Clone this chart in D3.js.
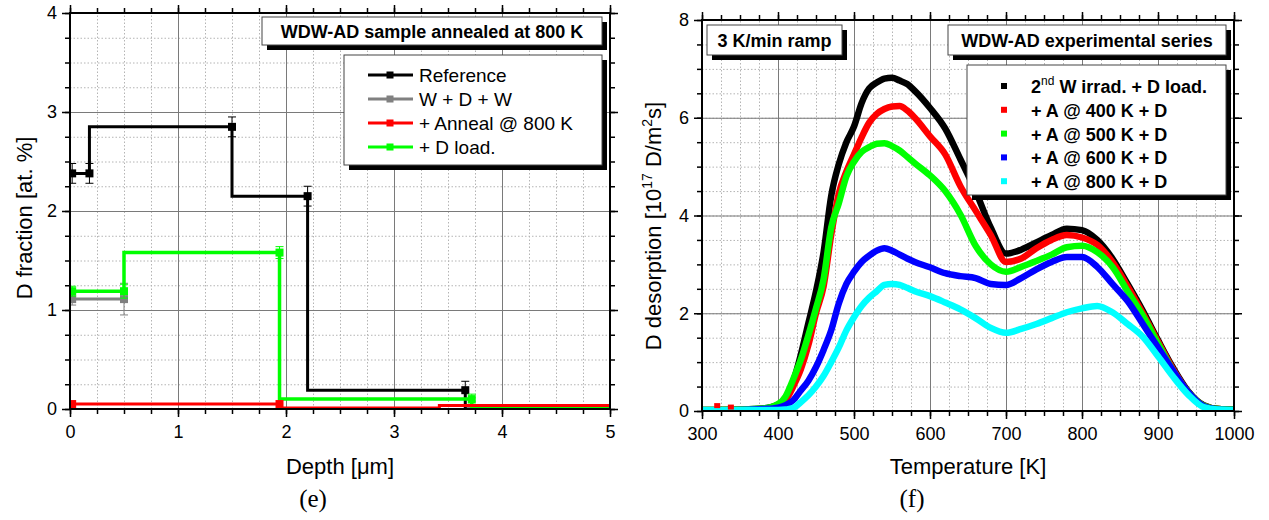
<!DOCTYPE html>
<html>
<head>
<meta charset="UTF-8">
<title>Depth profile and TDS</title>
<style>
    body { margin: 0; background: #fff; }
    svg text { font-family: "Liberation Sans", Arial, sans-serif; fill: #000; }
    .tick text { font-size: 18px; }
    .grid-minor line { stroke: #b4b4b4; stroke-dasharray: 1.5, 2; }
    .grid-major line { stroke: #7a7a7a; }
    .grid-minor path, .grid-major path, .ax path { display: none; }
    .ax line { stroke: #000; stroke-width: 1.5; }
    .lbl { font-size: 22px; }
    .box { font-size: 18px; font-weight: bold; }
    .leg { font-size: 19px; }
    .panel { font-family: "Liberation Serif", "Times New Roman", serif; font-size: 25px; }
</style>
</head>
<body>
<svg id="svg" width="1269" height="520"></svg>
<script src="https://d3js.org/d3.v7.min.js"></script>
<script>
    var svg = d3.select("#svg");

    // ---- panel (e): depth profiles ----
    var depthTicks = [0, 1, 2, 3, 4, 5];
    var fracTicks = [0, 1, 2, 3, 4];

    var refX = [0.02, 0.18, 1.5, 2.2, 3.66, 5];
    var refY = [2.38, 2.38, 2.85, 2.15, 0.19, 0];
    var refErr = [0.1, 0.1, 0.1, 0.1, 0.09, null];

    var wdwX = [0.02, 0.5];
    var wdwY = [1.11, 1.11];
    var wdwErr = [0.06, 0.16];

    var annX = [0.02, 1.94, 3.42, 3.72, 5];
    var annY = [0.05, 0.05, 0.01, 0.035, 0.035];
    var annErr = [0, 0, null, null, null];

    var dlX = [0.02, 0.5, 1.94, 3.72, 5];
    var dlY = [1.19, 1.19, 1.58, 0.1, 0.015];
    var dlErr = [0.05, 0.07, 0.06, 0.05, null];

    var depthNames = ["Reference", "W + D + W", "+ Anneal @ 800 K", "+ D load."];
    var depthColors = ["#000000", "#808080", "#ff0000", "#00ff00"];

    // ---- panel (f): TDS spectra ----
    var tempTicks = [300, 400, 500, 600, 700, 800, 900, 1000];
    var desTicks = [0, 2, 4, 6, 8];

    var tempK = [300, 350, 380, 400, 410, 420, 430, 440, 450, 460, 470, 480, 490, 500, 510, 520, 530, 540, 550, 560,
        570, 580, 600, 620, 640, 660, 680, 700, 720, 740, 760, 780, 800, 820, 840, 860, 880, 900, 920, 940, 960, 980, 1000];
    var irr2nd = [0.02, 0.03, 0.05, 0.13, 0.25, 0.6, 1.15, 1.8, 2.45, 3.25, 4.4, 5.05, 5.5, 5.82, 6.3, 6.6, 6.72, 6.8, 6.82, 6.76,
        6.69, 6.55, 6.2, 5.78, 5.15, 4.5, 3.75, 3.22, 3.3, 3.45, 3.6, 3.73, 3.7, 3.5, 3.12, 2.6, 2.05, 1.45, 0.88, 0.4, 0.12, 0.04, 0.03];
    var ann400 = [0.02, 0.03, 0.04, 0.1, 0.22, 0.5, 0.85, 1.35, 2.0, 2.55, 3.6, 4.45, 4.9, 5.25, 5.6, 5.9, 6.08, 6.18, 6.23, 6.24,
        6.15, 6.0, 5.62, 5.25, 4.6, 4.1, 3.6, 3.05, 3.12, 3.33, 3.5, 3.6, 3.55, 3.4, 3.05, 2.55, 2.0, 1.42, 0.85, 0.38, 0.11, 0.04, 0.03];
    var ann500 = [0.02, 0.03, 0.05, 0.14, 0.3, 0.65, 1.05, 1.55, 2.1, 2.7, 3.75, 4.25, 4.8, 5.1, 5.3, 5.4, 5.47, 5.48, 5.42, 5.33,
        5.2, 5.07, 4.82, 4.5, 4.02, 3.38, 3.0, 2.85, 2.95, 3.07, 3.2, 3.35, 3.38, 3.25, 2.95, 2.45, 1.95, 1.38, 0.82, 0.38, 0.11, 0.04, 0.03];
    var ann600 = [0.01, 0.02, 0.04, 0.07, 0.12, 0.22, 0.42, 0.62, 0.9, 1.25, 1.65, 2.2, 2.6, 2.85, 3.05, 3.18, 3.28, 3.33, 3.28, 3.2,
        3.12, 3.05, 2.94, 2.82, 2.76, 2.72, 2.6, 2.58, 2.72, 2.9, 3.05, 3.15, 3.15, 2.95, 2.6, 2.25, 1.78, 1.3, 0.82, 0.38, 0.1, 0.03, 0.02];
    var ann800 = [0.02, 0.02, 0.02, 0.02, 0.03, 0.06, 0.18, 0.32, 0.5, 0.72, 1.0, 1.3, 1.65, 1.92, 2.15, 2.32, 2.45, 2.58, 2.6, 2.58,
        2.52, 2.45, 2.35, 2.22, 2.08, 1.9, 1.7, 1.6, 1.68, 1.78, 1.9, 2.02, 2.1, 2.15, 2.02, 1.78, 1.52, 1.12, 0.7, 0.33, 0.08, 0.03, 0.02];
    var strayT = [320, 338];
    var strayV = [0.1, 0.07];

    var tdsColors = ["#000000", "#ff0000", "#00ff00", "#0000ff", "#00ffff"];

    function frame(o) {
        var g = svg.append("g");
        var x = d3.scaleLinear().domain(o.xd).range([o.l, o.r]);
        var y = d3.scaleLinear().domain(o.yd).range([o.b, o.t]);
        var xMinor = d3.range(o.xd[0], o.xd[1] + 1e-9, o.xStep);
        var yMinor = d3.range(o.yd[0], o.yd[1] + 1e-9, o.yStep);
        var w = o.r - o.l, h = o.b - o.t;

        g.append("g").attr("class", "grid-minor").attr("transform", "translate(0," + o.b + ")")
            .call(d3.axisBottom(x).tickValues(xMinor).tickSize(-h).tickFormat(""));
        g.append("g").attr("class", "grid-minor").attr("transform", "translate(" + o.l + ",0)")
            .call(d3.axisLeft(y).tickValues(yMinor).tickSize(-w).tickFormat(""));
        g.append("g").attr("class", "grid-major").attr("transform", "translate(0," + o.b + ")")
            .call(d3.axisBottom(x).tickValues(o.xt).tickSize(-h).tickFormat(""));
        g.append("g").attr("class", "grid-major").attr("transform", "translate(" + o.l + ",0)")
            .call(d3.axisLeft(y).tickValues(o.yt).tickSize(-w).tickFormat(""));

        // minor ticks on all sides
        g.append("g").attr("class", "ax").attr("transform", "translate(0," + o.b + ")").call(d3.axisBottom(x).tickValues(xMinor).tickSize(5).tickFormat(""));
        g.append("g").attr("class", "ax").attr("transform", "translate(0," + o.t + ")").call(d3.axisTop(x).tickValues(xMinor).tickSize(5).tickFormat(""));
        g.append("g").attr("class", "ax").attr("transform", "translate(" + o.l + ",0)").call(d3.axisLeft(y).tickValues(yMinor).tickSize(5).tickFormat(""));
        g.append("g").attr("class", "ax").attr("transform", "translate(" + o.r + ",0)").call(d3.axisRight(y).tickValues(yMinor).tickSize(5).tickFormat(""));
        // major ticks
        g.append("g").attr("class", "ax").attr("transform", "translate(0," + o.b + ")").call(d3.axisBottom(x).tickValues(o.xt).tickSize(8).tickPadding(8).tickFormat(d3.format("d")));
        g.append("g").attr("class", "ax").attr("transform", "translate(0," + o.t + ")").call(d3.axisTop(x).tickValues(o.xt).tickSize(8).tickFormat(""));
        g.append("g").attr("class", "ax").attr("transform", "translate(" + o.l + ",0)").call(d3.axisLeft(y).tickValues(o.yt).tickSize(8).tickPadding(5).tickFormat(d3.format("d")));
        g.append("g").attr("class", "ax").attr("transform", "translate(" + o.r + ",0)").call(d3.axisRight(y).tickValues(o.yt).tickSize(8).tickFormat(""));
        g.selectAll(".tick text").style("font-family", "Liberation Sans, Arial, sans-serif");

        svg.append("clipPath").attr("id", o.id).append("rect").attr("x", o.l).attr("y", o.t).attr("width", w).attr("height", h);
        var data = svg.append("g").attr("clip-path", "url(#" + o.id + ")");
        // frame drawn after data
        var top = svg.append("g");
        return { x: x, y: y, data: data, top: top, o: o };
    }

    function closeFrame(p) {
        var o = p.o;
        p.top.append("rect").attr("x", o.l).attr("y", o.t).attr("width", o.r - o.l).attr("height", o.b - o.t)
            .attr("fill", "none").attr("stroke", "#000").attr("stroke-width", 2);
    }

    function shadowBox(x0, y0, w, h) {
        svg.append("rect").attr("x", x0 + 5).attr("y", y0 + 5).attr("width", w).attr("height", h).attr("fill", "#000");
        svg.append("rect").attr("x", x0).attr("y", y0).attr("width", w).attr("height", h)
            .attr("fill", "#fff").attr("stroke", "#444").attr("stroke-width", 1);
    }

    // ===== panel (e) =====
    var pe = frame({ id: "clipE", l: 70, r: 610, t: 13, b: 409, xd: [0, 5], yd: [0, 4], xt: depthTicks, yt: fracTicks, xStep: 0.25, yStep: 0.25 });
    var stepLine = d3.line().curve(d3.curveStepBefore).x(function (d) { return pe.x(d[0]); }).y(function (d) { return pe.y(d[1]); });

    var depthSeries = [[refX, refY, refErr], [wdwX, wdwY, wdwErr], [annX, annY, annErr], [dlX, dlY, dlErr]];
    var drawOrder = [0, 1, 3, 2];
    drawOrder.forEach(function (k) {
        var s = depthSeries[k], col = depthColors[k];
        var pts = s[0].map(function (v, i) { return [v, s[1][i], s[2][i]]; });
        pe.data.append("path").attr("d", stepLine(pts)).attr("fill", "none").attr("stroke", col)
            .attr("stroke-width", k == 3 ? 3.5 : 3);
        pts.forEach(function (d) {
            if (d[2] === null) return;
            var cx = pe.x(d[0]);
            if (d[2] > 0) {
                var y1 = pe.y(d[1] + d[2]), y2 = pe.y(d[1] - d[2]);
                pe.data.append("line").attr("x1", cx).attr("x2", cx).attr("y1", y1).attr("y2", y2).attr("stroke", col).attr("stroke-width", 1);
                pe.data.append("line").attr("x1", cx - 4).attr("x2", cx + 4).attr("y1", y1).attr("y2", y1).attr("stroke", col).attr("stroke-width", 1);
                pe.data.append("line").attr("x1", cx - 4).attr("x2", cx + 4).attr("y1", y2).attr("y2", y2).attr("stroke", col).attr("stroke-width", 1);
            }
            pe.data.append("rect").attr("x", cx - 4).attr("y", pe.y(d[1]) - 4).attr("width", 8).attr("height", 8).attr("fill", col);
        });
    });
    closeFrame(pe);

    shadowBox(262, 17, 340, 28);
    svg.append("text").attr("class", "box").attr("x", 432).attr("y", 37.5).attr("text-anchor", "middle").text("WDW-AD sample annealed at 800 K");
    shadowBox(344, 55, 258, 110);
    depthNames.forEach(function (n, i) {
        var yy = 75 + i * 24;
        svg.append("line").attr("x1", 368).attr("x2", 413).attr("y1", yy).attr("y2", yy).attr("stroke", depthColors[i]).attr("stroke-width", 3);
        svg.append("rect").attr("x", 386.5).attr("y", yy - 3.5).attr("width", 7).attr("height", 7).attr("fill", depthColors[i]);
        svg.append("text").attr("class", "leg").attr("x", 419).attr("y", yy + 7).text(n);
    });

    svg.append("text").attr("class", "lbl").attr("transform", "translate(32,218) rotate(-90)").attr("text-anchor", "middle").text("D fraction [at. %]");
    svg.append("text").attr("class", "lbl").attr("x", 340).attr("y", 474).attr("text-anchor", "middle").text("Depth [\u03bcm]");
    svg.append("text").attr("class", "panel").attr("x", 313).attr("y", 507).attr("text-anchor", "middle").text("(e)");

    // ===== panel (f) =====
    var pf = frame({ id: "clipF", l: 702, r: 1234, t: 20, b: 411, xd: [300, 1000], yd: [0, 8], xt: tempTicks, yt: desTicks, xStep: 25, yStep: 0.5 });
    var curve = d3.line().curve(d3.curveMonotoneX).x(function (d) { return pf.x(d[0]); }).y(function (d) { return pf.y(d[1]); });
    [irr2nd, ann400, ann500, ann600, ann800].forEach(function (vals, k) {
        pf.data.append("path").attr("d", curve(tempK.map(function (t, i) { return [t, vals[i]]; })))
            .attr("fill", "none").attr("stroke", tdsColors[k]).attr("stroke-width", 6.5).attr("stroke-linejoin", "round");
    });
    strayT.forEach(function (t, i) {
        pf.data.append("rect").attr("x", pf.x(t) - 3).attr("y", pf.y(strayV[i]) - 3).attr("width", 6).attr("height", 5).attr("fill", "#ff0000");
    });
    closeFrame(pf);

    shadowBox(707, 25, 135, 30);
    svg.append("text").attr("class", "box").attr("x", 774.5).attr("y", 46.5).attr("text-anchor", "middle").text("3 K/min ramp");
    shadowBox(948, 25, 278, 30);
    svg.append("text").attr("class", "box").attr("x", 1087).attr("y", 46.5).attr("text-anchor", "middle").text("WDW-AD experimental series");
    shadowBox(967, 65, 259, 130);
    var tdsNames = ["+ A @ 400 K + D", "+ A @ 500 K + D", "+ A @ 600 K + D", "+ A @ 800 K + D"];
    tdsColors.forEach(function (c, i) {
        var yy = 86 + i * 23.8;
        svg.append("rect").attr("x", 1001).attr("y", yy - 3).attr("width", 6).attr("height", 6).attr("fill", c);
        var t = svg.append("text").attr("class", "box").attr("x", 1031).attr("y", yy + 7);
        if (i == 0) {
            t.append("tspan").text("2");
            t.append("tspan").attr("dy", -8).style("font-size", "12px").style("font-weight", "normal").text("nd");
            t.append("tspan").attr("dy", 8).text(" W irrad. + D load.");
        } else {
            t.text(tdsNames[i - 1]);
        }
    });

    var yl = svg.append("text").attr("class", "lbl").attr("transform", "translate(661,226) rotate(-90)").attr("text-anchor", "middle");
    yl.append("tspan").text("D desorption [10");
    yl.append("tspan").attr("dy", -9).style("font-size", "14px").text("17");
    yl.append("tspan").attr("dy", 9).text(" D/m");
    yl.append("tspan").attr("dy", -9).style("font-size", "14px").text("2");
    yl.append("tspan").attr("dy", 9).text("s]");
    svg.append("text").attr("class", "lbl").attr("x", 968).attr("y", 474).attr("text-anchor", "middle").text("Temperature [K]");
    svg.append("text").attr("class", "panel").attr("x", 912).attr("y", 507).attr("text-anchor", "middle").text("(f)");
</script>
</body>
</html>
